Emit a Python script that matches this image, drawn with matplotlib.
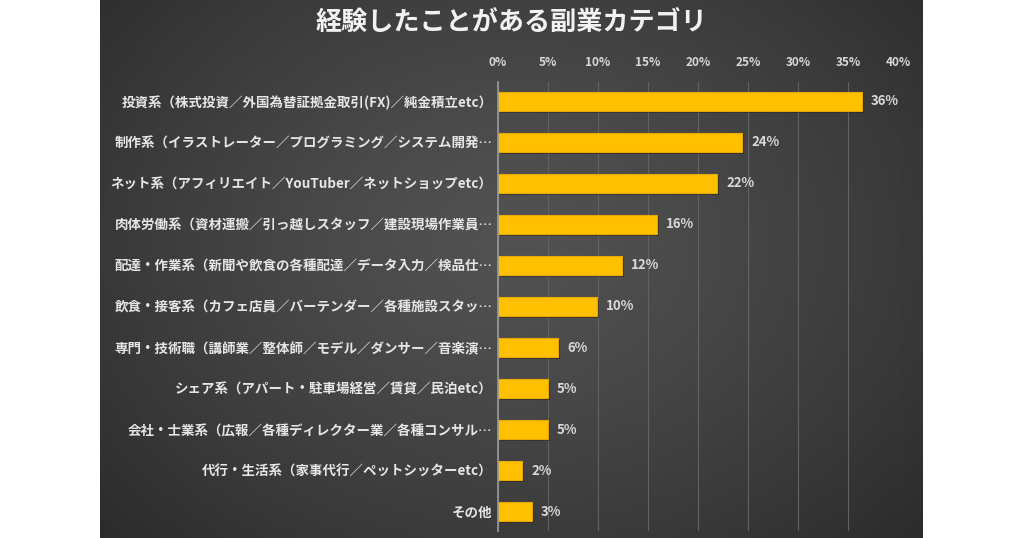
import numpy as np
import matplotlib
matplotlib.use("Agg")
import matplotlib.pyplot as plt

plt.rcParams['font.family'] = ['Noto Sans CJK JP', 'DejaVu Sans']

title = "経験したことがある副業カテゴリ"
categories = [
    "投資系（株式投資／外国為替証拠金取引(FX)／純金積立etc）",
    "制作系（イラストレーター／プログラミング／システム開発…",
    "ネット系（アフィリエイト／YouTuber／ネットショップetc）",
    "肉体労働系（資材運搬／引っ越しスタッフ／建設現場作業員…",
    "配達・作業系（新聞や飲食の各種配達／データ入力／検品仕…",
    "飲食・接客系（カフェ店員／バーテンダー／各種施設スタッ…",
    "専門・技術職（講師業／整体師／モデル／ダンサー／音楽演…",
    "シェア系（アパート・駐車場経営／賃貸／民泊etc）",
    "会社・士業系（広報／各種ディレクター業／各種コンサル…",
    "代行・生活系（家事代行／ペットシッターetc）",
    "その他",
]
values = [36.4, 24.4, 21.9, 15.9, 12.4, 9.9, 6.0, 5.0, 5.0, 2.4, 3.4]
xticks = [0, 5, 10, 15, 20, 25, 30, 35, 40]
xtick_labels = [f"{t}%" for t in xticks]

W, H = 1024, 538
fig = plt.figure(figsize=(W / 100, H / 100), dpi=100)
fig.patch.set_facecolor("white")

# dark gradient panel
bg = fig.add_axes([100 / W, 0, 823 / W, 1])
bg.set_axis_off()
ny, nx = 200, 300
yy, xx = np.mgrid[0:1:ny * 1j, 0:1:nx * 1j]
r = np.sqrt(((xx - 0.5) / 0.75) ** 2 + ((yy - 0.55) / 0.9) ** 2)
r = np.clip(r, 0, 1)
c_center = np.array([0x52, 0x52, 0x52]) / 255
c_edge = np.array([0x26, 0x26, 0x26]) / 255
img = c_center[None, None, :] * (1 - r[..., None] ** 1.3) + c_edge[None, None, :] * (r[..., None] ** 1.3)
bg.imshow(img, extent=[0, 1, 0, 1], aspect="auto", origin="lower")
bg.set_xlim(0, 1)
bg.set_ylim(0, 1)

fig.text(511 / W, 1 - 22 / H, title, ha="center", va="center",
         fontsize=18.8, color="#f2f2f2", fontweight="bold")

ax = fig.add_axes([498 / W, 1 - 531 / H, 400 / W, 449 / H])
ax.patch.set_alpha(0)
y = np.arange(len(categories))
# subtle shadow then bars
ax.barh(y + 0.04, values, height=0.47, left=0.15, color="#1a1a1a", alpha=0.5,
        linewidth=0, zorder=2)
ax.barh(y, values, height=0.47, color="#FFC000", edgecolor="#E8A800",
        linewidth=0.8, zorder=3)
ax.set_xlim(0, 40)
ax.set_ylim(len(categories) - 0.525, -0.475)
ax.set_xticks(xticks)
ax.set_xticklabels(xtick_labels)
ax.xaxis.tick_top()
ax.tick_params(axis="x", length=0, pad=9, labelsize=8.5, labelcolor="#d9d9d9")
ax.set_yticks(y)
ax.set_yticklabels(categories)
ax.tick_params(axis="y", length=0, pad=4, labelsize=9.7, labelcolor="#e6e6e6")
for lab in ax.get_yticklabels() + ax.get_xticklabels():
    lab.set_fontweight("bold")
ax.grid(axis="x", color="#626262", linewidth=0.8, zorder=0)
for s in ["top", "right", "bottom"]:
    ax.spines[s].set_visible(False)
ax.spines["left"].set_color("#9a9a9a")
ax.spines["left"].set_linewidth(1.2)
ax.spines["left"].set_zorder(4)

for yi, v in zip(y, values):
    ax.text(v + 0.9, yi, f"{v:.0f}%", va="center", ha="left",
            fontsize=9.5, fontweight="bold", color="#d9d9d9")

fig.savefig("out.png", dpi=100, facecolor=fig.get_facecolor())
